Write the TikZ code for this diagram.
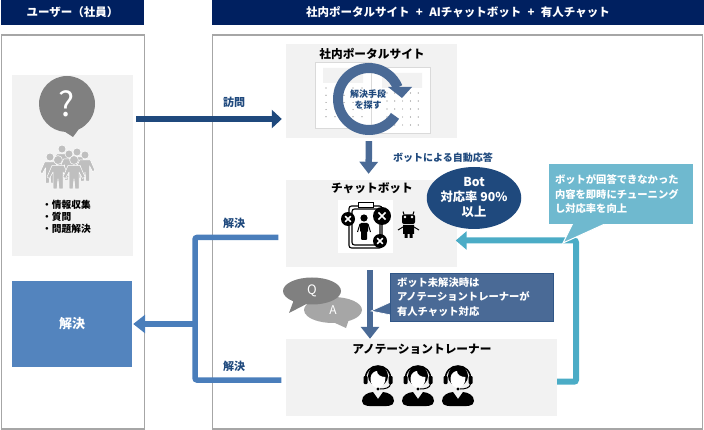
\documentclass[tikz,border=0pt]{standalone}
\usepackage{fontspec}
\setmainfont{Noto Sans CJK JP}
\usepackage{xcolor}
\usepackage{tikz}
\usetikzlibrary{positioning, calc, arrows.meta, shapes.geometric, shapes.callouts}

\definecolor{head_navy}{HTML}{002060}
\definecolor{visit_blue}{HTML}{1F497D}
\definecolor{flow_blue}{HTML}{4A6A96}
\definecolor{solve_blue}{HTML}{4A7EBB}
\definecolor{tune_teal}{HTML}{4BACC6}
\definecolor{note_teal}{HTML}{6FB9CF}
\definecolor{panel_gray}{HTML}{F2F2F2}
\definecolor{frame_gray}{HTML}{A6A6A6}
\definecolor{crowd_gray}{HTML}{BFBFBF}

\tikzset{
    member/.pic={
        \filldraw[draw=white, line width=.5pt, fill=crowd_gray, line join=round] (0,0) circle[radius=4.4pt]
            (-6,5.5) -- (6,5.5) -- (11,17) -- (8.5,18.5) -- (5,12) -- (5,29) -- (1,29) -- (0,19) -- (-1,29) -- (-5,29) -- (-5,12) -- (-8.5,18.5) -- (-11,17) -- cycle;
    },
    agent/.pic={
        \fill[black] (0,-1) circle[radius=10pt];
        \fill[white] (-7.5,1) .. controls (-7,-4) and (-3,-6) .. (-1,-6) .. controls (-1,-2) and (3,0) .. (7.5,0) .. controls (8,7) and (3,11) .. (0,11) .. controls (-4,11) and (-8,7) .. (-7.5,1) -- cycle;
        \draw[black, line width=1.6pt] (-12.5,4) .. controls (-14.5,-16) and (14.5,-16) .. (12.5,4);
        \fill[black, rounded corners=1pt] (-14.5,-1) rectangle (-10.5,7) (10.5,-1) rectangle (14.5,7);
        \draw[black, line width=1pt] (12.5,7) .. controls (12,11) and (7,12) .. (2,12);
        \fill[black] (0,12) circle[radius=1.6pt];
        \fill[black] (-16,24) .. controls (-16,18) and (-10,15.5) .. (-5,15) -- (0,22) -- (5,15) .. controls (10,15.5) and (16,18) .. (16,24) .. controls (16,30) and (8,29) .. (0,29) .. controls (-8,29) and (-16,30) .. (-16,24) -- cycle;
    },
    xmark/.pic={
        \fill[black] (0,0) circle[radius=1];
        \draw[white, line width=1.6pt] (-.4,-.4) -- (.4,.4) (-.4,.4) -- (.4,-.4);
    }
}

\begin{document}
\begin{tikzpicture}[
    x=1pt, y=-1pt,
    header_style/.style={rectangle, fill=head_navy, text=white, inner sep=0pt, minimum height=25pt, font=\fontsize{11.5}{13}\selectfont\bfseries},
    frame_style/.style={rectangle, draw=frame_gray, line width=1.2pt, inner sep=0pt},
    panel/.style={rectangle, fill=panel_gray, inner sep=0pt},
    title_style/.style={inner sep=0pt, text=black, font=\fontsize{11.7}{13}\selectfont\bfseries},
    label_style/.style={inner sep=0pt, text=visit_blue, font=\fontsize{11}{13}\selectfont\bfseries},
    auto_style/.style={inner sep=0pt, text=visit_blue, font=\fontsize{10}{12}\selectfont\bfseries},
    list_style/.style={inner sep=0pt, align=left, text=black, font=\fontsize{9.7}{12.2}\selectfont\bfseries},
    note_style/.style={rectangle, inner ysep=0pt, align=left, text=white, font=\fontsize{10.3}{14.5}\selectfont\bfseries},
    bubble/.style={ellipse callout, inner sep=0pt, text=white, callout pointer arc=28},
    visit_arrow/.style={-{Triangle[length=10pt,width=18pt]}, line width=5.5pt, visit_blue},
    flow_arrow/.style={-{Triangle[length=12pt,width=18pt]}, line width=6.5pt, flow_blue},
    solve_line/.style={line width=5.5pt, solve_blue, rounded corners=2pt},
    solve_arrow/.style={-{Triangle[length=12pt,width=18pt]}, line width=5.5pt, solve_blue},
    tune_arrow/.style={-{Triangle[length=11pt,width=18pt]}, line width=6pt, tune_teal, rounded corners=2pt}
]
    \useasboundingbox (0,0) rectangle (704,430);

    % Headers and frames
    \node[header_style, minimum width=143pt] (user_head) at (72.5,12.5) {ユーザー（社員）};
    \node[header_style, minimum width=492pt] (site_head) at (458,12.5) {社内ポータルサイト\hspace{.55em}+\hspace{.55em}AIチャットボット\hspace{.55em}+\hspace{.55em}有人チャット};
    \node[frame_style, minimum width=143pt, minimum height=394pt] (user_frame) at (72.7,232) {};
    \node[frame_style, minimum width=490.5pt, minimum height=394pt] (site_frame) at (457.5,232) {};

    % Boxes
    \node[panel, minimum width=121pt, minimum height=181pt] (question) at (72.5,165.5) {};
    \node[rectangle, fill=solve_blue!95!white, text=white, inner sep=0pt, minimum width=120pt, minimum height=86pt, font=\fontsize{13}{15}\selectfont\bfseries] (solved) at (72,324) {解決};
    \node[panel, minimum width=171pt, minimum height=94pt] (portal) at (371.5,91) {};
    \node[panel, minimum width=171pt, minimum height=87pt] (chatbot) at (371,223.5) {};
    \node[panel, minimum width=271pt, minimum height=77pt] (annotation) at (421.5,377.5) {};

    \node[title_style] (portal_title) at (372,54) {社内ポータルサイト};
    \node[title_style] (chatbot_title) at (372,188.5) {チャットボット};
    \node[title_style] (annotation_title) at (422,349) {アノテーショントレーナー};

    % User side
    \node[bubble, fill=gray, minimum width=56pt, minimum height=56pt, callout absolute pointer={(73,137)}, font=\fontsize{34}{36}\selectfont] (ask) at (67,104) {?};
    \foreach \px/\py in {62/149, 77/152, 50/157, 69/154, 85/155} {
        \pic[scale=.9] at (\px,\py) {member};
    }
    \foreach \px/\py in {58/160, 74/160} {
        \pic at (\px,\py) {member};
    }
    \node[list_style, anchor=north west] (ask_list) at (42,200) {・情報収集\\・質問\\・問題解決};

    % Portal page and loop
    \fill[white, draw=panel_gray!80!black!60!white] (315,62) rectangle (371,128);
    \fill[white, draw=panel_gray!80!black!60!white] (371,67) rectangle (430,133);
    \fill[panel_gray] (323,68) rectangle (363,83) (382,73) rectangle (422,88);
    \foreach \dx in {0,...,4} {
        \foreach \dy in {0,...,4} {
            \fill[gray] (326+\dx*9,88+\dy*7.2) circle[radius=.6pt];
            \fill[gray] (387+\dx*7.8,93+\dy*8) circle[radius=.6pt];
        }
    }
    \draw[flow_blue, line width=10pt] (369,99) ++(-33:31pt) arc[start angle=-33, end angle=-338, radius=31pt];
    \fill[flow_blue] (388,87) -- (412,87) -- (402,98) -- cycle;
    \node[inner sep=0pt, align=center, text=visit_blue, font=\fontsize{9}{11}\selectfont\bfseries] (loop_text) at (368,100) {解決手段\\を探す};

    % Chatbot icons
    \fill[white] (338,200) rectangle (393,253);
    \draw[black, line width=1.1pt, rounded corners=2.5pt] (349,206) rectangle (382,248);
    \draw[black, line width=1.1pt, rounded corners=2.5pt] (352,209) rectangle (380,245);
    \filldraw[draw=black, fill=white, line width=1pt] (358,203) rectangle (373,208);
    \pic[scale=7] at (348,219) {xmark};
    \pic[scale=9] at (382,216) {xmark};
    \pic[scale=7] at (380,241) {xmark};
    \fill[white] (356,213) rectangle (372,241);
    \fill[black] (364,218) circle[radius=3.6pt];
    \fill[black, rounded corners=1pt] (360,223) rectangle (368,232) (361,230) rectangle (367,240);
    \draw[black, line width=1pt] (360,224) -- (357.5,232) (368,224) -- (370.5,232);
    \fill[black, rounded corners=2pt] (402,214.5) rectangle (415,224);
    \fill[white] (405,217) circle[radius=1.3pt] (412,217) circle[radius=1.3pt];
    \fill[black] (403,225) rectangle (414,234) (404.5,234) rectangle (407.5,238) (409.5,234) rectangle (412.5,238);
    \draw[black, line width=1pt] (403,227) -- (398,230) (414,227) -- (419,230) (404,214.5) -- (403,211.5) (413,214.5) -- (414,211.5);

    \node[ellipse, fill=visit_blue, text=white, inner sep=0pt, minimum width=76pt, minimum height=62pt, align=center, font=\fontsize{12.3}{15}\selectfont\bfseries] (rate) at (474,198) {Bot\\対応率 90\%\\以上};

    % Annotation icons
    \foreach \px in {378,418,458} {
        \pic at (\px,377) {agent};
    }

    % Arrows
    \coordinate (visit_from) at (136,119);
    \coordinate (tune_bend) at (576,240.5);
    \coordinate (solve_top) at (195,237.5);
    \coordinate (solve_mid) at (195,324);
    \coordinate (solve_bot) at (195,380);

    \draw[visit_arrow, shorten >=4pt] (visit_from) -- (portal.west |- visit_from);
    \draw[flow_arrow, shorten <=3pt, shorten >=6pt] ([xshift=-2.5pt]portal.south) -- ([xshift=-2.5pt]chatbot.north);
    \draw[flow_arrow, shorten <=3pt] ([xshift=-1pt]chatbot.south) -- ([xshift=-51.5pt]annotation.north);
    \draw[solve_line, shorten <=7pt, shorten >=4.5pt] ([yshift=-14pt]chatbot.west) -- (solve_top) -- (solve_bot) -- ([yshift=-2.5pt]annotation.west);
    \draw[solve_arrow, shorten >=1pt] (solve_mid) -- (solved.east);
    \draw[tune_arrow, shorten >=-1pt] ([yshift=-4.2pt]annotation.east) -| (tune_bend) -- (chatbot.east |- tune_bend);

    \node[label_style] (visit_label) at (234,102) {訪問};
    \node[label_style] (solve_label_a) at (234,223) {解決};
    \node[label_style] (solve_label_b) at (234,366) {解決};
    \node[auto_style] (auto_label) at (443,158) {ボットによる自動応答};

    % Callouts
    \coordinate (tune_tip) at (563,243);
    \coordinate (escalate_tip) at (371,311);
    \filldraw[draw=white, line width=1pt, fill=note_teal] (573,223) -- (tune_tip) -- (607,223) -- cycle;
    \node[note_style, fill=note_teal, inner xsep=6pt, text width=132pt, minimum height=60pt] (tune_note) at (621,194) {ボットが回答できなかった\\内容を即時にチューニング\\し対応率を向上};
    \filldraw[draw=white, line width=.6pt, fill=flow_blue] (391,302) -- (escalate_tip) -- (391,315) -- cycle;
    \node[note_style, draw=visit_blue!60!flow_blue, line width=.5pt, fill=flow_blue, inner xsep=7pt, text width=149.5pt, minimum height=48pt] (escalate_note) at (471.75,297) {ボット未解決時は\\アノテーショントレーナーが\\有人チャット対応};

    \node[bubble, fill=frame_gray, minimum width=58pt, minimum height=26pt, callout absolute pointer={(346,328)}, font=\fontsize{12}{14}\selectfont] (answer) at (333,310) {A};
    \node[bubble, fill=gray, minimum width=58pt, minimum height=27pt, callout absolute pointer={(289,313)}, font=\fontsize{13}{15}\selectfont] (query) at (312,291) {Q};
\end{tikzpicture}
\end{document}
